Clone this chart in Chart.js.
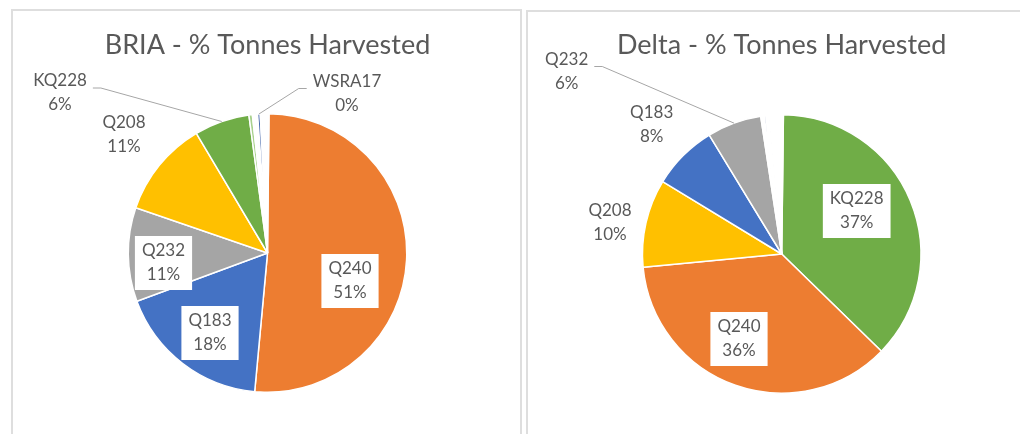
<!DOCTYPE html>
<html><head><meta charset="utf-8">
<script src="https://cdn.jsdelivr.net/npm/chart.js@4"></script>
<style>
html,body{margin:0;padding:0;background:#fff;width:1020px;height:434px;overflow:hidden;}
.panel{position:absolute;border:2px solid #dedede;background:#fff;box-sizing:border-box;}
#p1{left:11px;top:9px;width:511px;height:445px;}
#p2{left:526px;top:10px;width:510px;height:445px;}
canvas{position:absolute;top:0;}
#c1{left:0;}
#c2{left:520px;}
</style></head><body>
<div class="panel" id="p1"></div>
<div class="panel" id="p2"></div>
<canvas id="c1" width="520" height="434"></canvas>
<canvas id="c2" width="500" height="434"></canvas>
<script>
// ---- data ----
const briaTitle = 'BRIA - % Tonnes Harvested';
const briaCategories = ['Q240', 'Q183', 'Q232', 'Q208', 'KQ228', '', '', 'WSRA17', ''];
const briaValues = [51.3, 17.9, 10.9, 11.2, 6.4, 0.4, 0.6, 0.3, 1.0];

const deltaTitle = 'Delta - % Tonnes Harvested';
const deltaCategories = ['KQ228', 'Q240', 'Q208', 'Q183', 'Q232', '', '', '', '', ''];
const deltaValues = [37.1, 36.2, 10.2, 7.6, 6.3, 0.4, 0.2, 0.4, 0.15, 1.45];

// ---- styles ----
const briaColors = ['#ED7D31', '#4472C4', '#A5A5A5', '#FFC000', '#70AD47', '#A9D18E', '#FFFFFF', '#3F62A8', '#FFFFFF'];
const deltaColors = ['#70AD47', '#ED7D31', '#FFC000', '#4472C4', '#A5A5A5', '#FFFFFF', '#9AA8C6', '#FFFFFF', '#8E9CBB', '#FFFFFF'];

// label placement (offsets from pie centre, px) – layout only
const briaLabelLayout = [
  {dx: 82.5, dy: 28, box: true},
  {dx: -57.5, dy: 80, box: true},
  {dx: -104, dy: 10, box: true},
  {dx: -143.5, dy: -118.5},
  {dx: -207.5, dy: -160, leader: true},
  null, null,
  {dx: 79.5, dy: -159.5, leader: true},
  null
];
const deltaLabelLayout = [
  {dx: 75, dy: -43, box: true},
  {dx: -42.7, dy: 85, box: true},
  {dx: -171.7, dy: -31},
  {dx: -130, dy: -129},
  {dx: -215, dy: -182.5, leader: true},
  null, null, null, null, null
];

const FONT = 'Lato, "Open Sans", sans-serif';
const TEXT = '#595959';

const labelPlugin = {
  id: 'excelLabels',
  afterDatasetsDraw(chart, args, opts) {
    const ctx = chart.ctx;
    const meta = chart.getDatasetMeta(0);
    const ds = chart.data.datasets[0];
    const total = ds.data.reduce((a, b) => a + b, 0);
    const layout = opts.layout;
    const lh = 24;
    ctx.save();
    ctx.font = '17px ' + FONT;
    ctx.textAlign = 'center';
    ctx.textBaseline = 'middle';
    meta.data.forEach((arc, i) => {
      const L = layout[i];
      if (!L) return;
      const lines = [chart.data.labels[i], Math.round(ds.data[i] / total * 100) + '%'];
      const cx = arc.x, cy = arc.y;
      const lx = cx + L.dx, ly = cy + L.dy;
      const w = Math.max(...lines.map(t => ctx.measureText(t).width));
      if (L.leader) {
        const mid = (arc.startAngle + arc.endAngle) / 2;
        const ex = cx + Math.cos(mid) * arc.outerRadius;
        const ey = cy + Math.sin(mid) * arc.outerRadius;
        const side = L.dx < 0 ? 1 : -1;
        const sx = lx + side * (w / 2 + 6);
        const sy = ly - 5;
        ctx.strokeStyle = '#A6A6A6';
        ctx.lineWidth = 1;
        ctx.beginPath();
        ctx.moveTo(sx, sy);
        ctx.lineTo(sx + side * 8, sy);
        ctx.lineTo(ex, ey);
        ctx.stroke();
      }
      if (L.box) {
        const bw = w + 14, bh = lh * 2 + 6;
        ctx.fillStyle = '#FFFFFF';
        ctx.fillRect(lx - bw / 2, ly - bh / 2, bw, bh);
      }
      ctx.fillStyle = TEXT;
      ctx.fillText(lines[0], lx, ly - lh / 2);
      ctx.fillText(lines[1], lx, ly + lh / 2);
    });
    ctx.restore();
  }
};

function makePie(id, title, cats, vals, colors, layout, pad, rot) {
  return new Chart(document.getElementById(id), {
    type: 'pie',
    data: {
      labels: cats,
      datasets: [{
        data: vals,
        backgroundColor: colors,
        borderColor: '#FFFFFF',
        borderWidth: 1.5
      }]
    },
    options: {
      responsive: false,
      animation: false,
      rotation: rot,
      layout: {padding: pad},
      plugins: {
        legend: {display: false},
        tooltip: {enabled: false},
        title: {
          display: true,
          text: title,
          color: TEXT,
          font: {family: FONT, size: 27, weight: 'normal', lineHeight: 1.2},
          padding: {top: 28.8, bottom: pad.titleBottom}
        },
        excelLabels: {layout: layout}
      }
    },
    plugins: [labelPlugin]
  });
}

makePie('c1', briaTitle, briaCategories, briaValues, briaColors, briaLabelLayout,
  {left: 87.5, right: 72.5, top: 0, bottom: 41, titleBottom: 51.8}, 0.6);
makePie('c2', deltaTitle, deltaCategories, deltaValues, deltaColors, deltaLabelLayout,
  {left: 81.7, right: 58.3, top: 0, bottom: 40, titleBottom: 52.8}, 0.7);
</script>
</body></html>
